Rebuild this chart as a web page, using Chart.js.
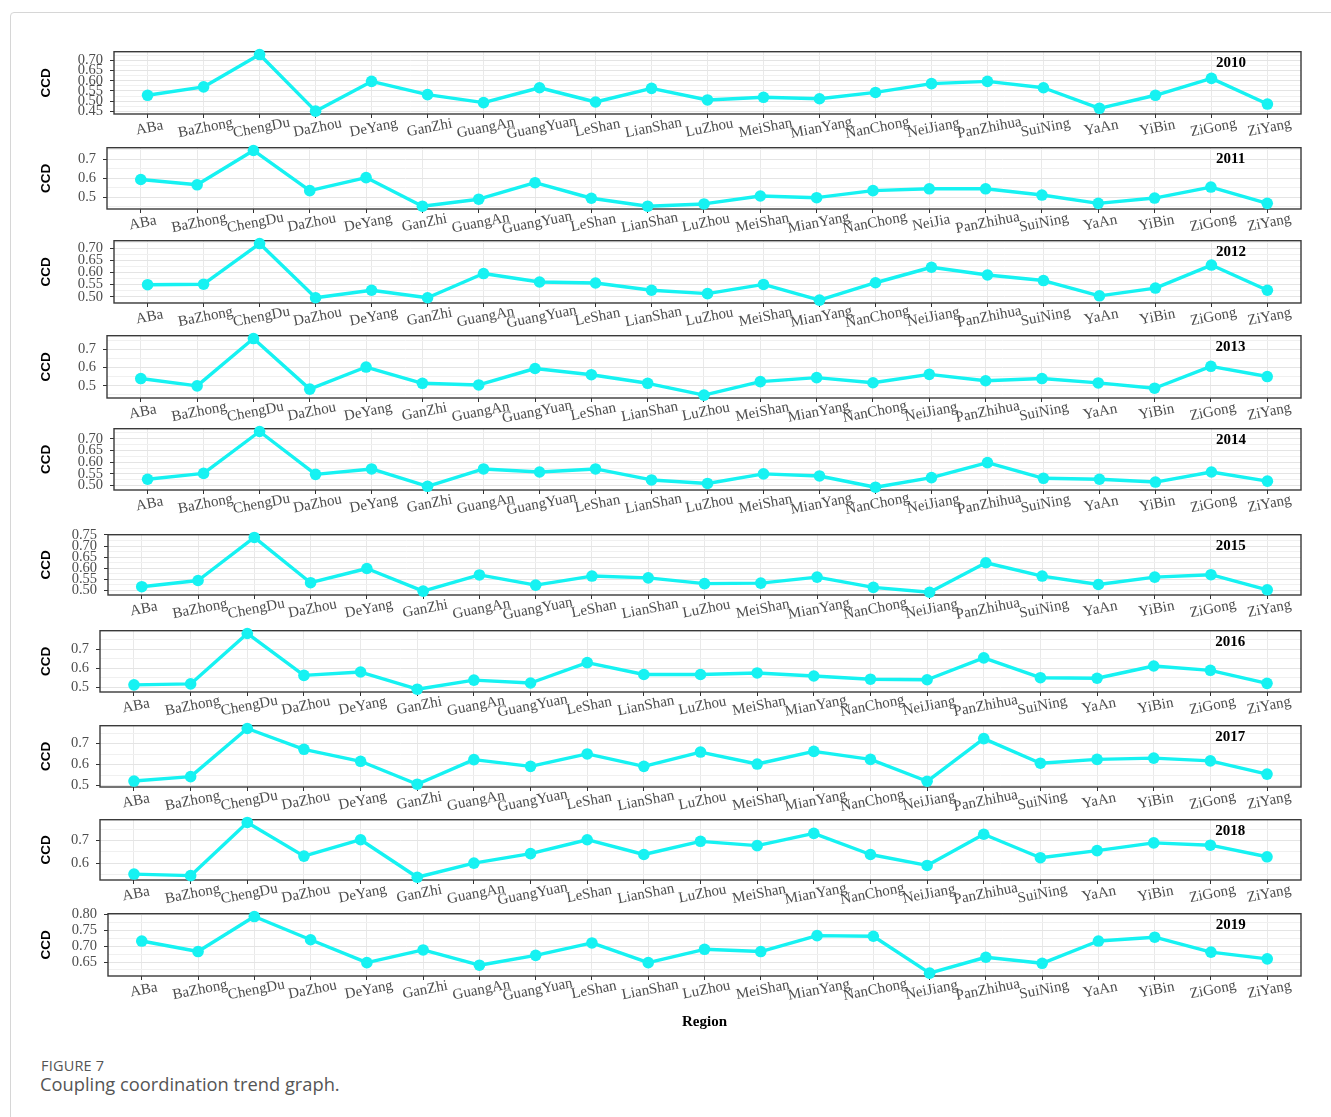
<!DOCTYPE html>
<html>
<head>
<meta charset="utf-8">
<script src="https://cdn.jsdelivr.net/npm/chart.js@4.4.1/dist/chart.umd.min.js"></script>
<style>
  html, body { margin: 0; padding: 0; background: #fff; }
  body { width: 1331px; height: 1117px; position: relative; overflow: hidden; }
  #card { position: absolute; left: 10px; top: 12px; width: 1340px; height: 1130px;
          border: 1px solid #d6d6d6; border-radius: 4px; box-sizing: border-box; }
  #panels canvas { position: absolute; left: 0; }
  .fig-num { position: absolute; left: 41px; top: 1056px; font: 14.5px "Open Sans"; color: #555; letter-spacing: 0.2px; }
  .fig-cap { position: absolute; left: 40px; top: 1071px; font: 18.3px "Open Sans"; color: #555; }
</style>
</head>
<body>
<div id="card"></div>
<div id="panels"></div>
<div class="fig-num">FIGURE 7</div>
<div class="fig-cap">Coupling coordination trend graph.</div>
<script>
// Regions of Sichuan shown on every panel's x axis
const categories = ['ABa', 'BaZhong', 'ChengDu', 'DaZhou', 'DeYang', 'GanZhi', 'GuangAn', 'GuangYuan',
  'LeShan', 'LianShan', 'LuZhou', 'MeiShan', 'MianYang', 'NanChong', 'NeiJiang', 'PanZhihua',
  'SuiNing', 'YaAn', 'YiBin', 'ZiGong', 'ZiYang'];
// the 2011 panel's axis spells NeiJiang as "NeiJia"
const categories2011 = categories.map(c => (c === 'NeiJiang' ? 'NeiJia' : c));

const years = ['2010', '2011', '2012', '2013', '2014', '2015', '2016', '2017', '2018', '2019'];

// Coupling coordination degree (CCD) per region, one array per year
const ccd2010 = [0.529, 0.570, 0.729, 0.451, 0.597, 0.532, 0.493, 0.566, 0.496, 0.563, 0.506, 0.519, 0.512, 0.543, 0.586, 0.597, 0.566, 0.465, 0.529, 0.612, 0.486];
const ccd2011 = [0.594, 0.566, 0.747, 0.535, 0.604, 0.453, 0.490, 0.577, 0.495, 0.453, 0.465, 0.507, 0.498, 0.535, 0.545, 0.545, 0.512, 0.468, 0.496, 0.554, 0.468];
const ccd2012 = [0.550, 0.552, 0.720, 0.496, 0.527, 0.496, 0.596, 0.561, 0.557, 0.527, 0.513, 0.551, 0.486, 0.558, 0.622, 0.590, 0.567, 0.504, 0.536, 0.631, 0.527];
const ccd2013 = [0.540, 0.500, 0.759, 0.482, 0.603, 0.514, 0.505, 0.595, 0.561, 0.514, 0.449, 0.523, 0.545, 0.517, 0.563, 0.528, 0.540, 0.516, 0.487, 0.607, 0.551];
const ccd2014 = [0.527, 0.552, 0.731, 0.548, 0.571, 0.497, 0.571, 0.558, 0.571, 0.524, 0.509, 0.550, 0.541, 0.493, 0.534, 0.598, 0.531, 0.527, 0.515, 0.558, 0.519];
const ccd2015 = [0.517, 0.545, 0.739, 0.535, 0.599, 0.497, 0.570, 0.524, 0.565, 0.557, 0.531, 0.533, 0.560, 0.514, 0.492, 0.625, 0.565, 0.527, 0.560, 0.571, 0.503];
const ccd2016 = [0.512, 0.517, 0.784, 0.562, 0.580, 0.489, 0.537, 0.522, 0.630, 0.567, 0.567, 0.575, 0.559, 0.542, 0.539, 0.655, 0.550, 0.547, 0.612, 0.589, 0.520];
const ccd2017 = [0.522, 0.543, 0.772, 0.673, 0.616, 0.507, 0.624, 0.592, 0.651, 0.592, 0.660, 0.603, 0.663, 0.625, 0.521, 0.724, 0.607, 0.625, 0.631, 0.618, 0.555];
const ccd2018 = [0.552, 0.545, 0.779, 0.631, 0.703, 0.538, 0.600, 0.642, 0.703, 0.638, 0.696, 0.677, 0.731, 0.638, 0.590, 0.727, 0.624, 0.655, 0.689, 0.679, 0.628];
const ccd2019 = [0.716, 0.683, 0.793, 0.720, 0.648, 0.688, 0.640, 0.671, 0.710, 0.648, 0.690, 0.683, 0.733, 0.731, 0.615, 0.665, 0.646, 0.716, 0.728, 0.681, 0.660];

// Major tick step of each panel's CCD axis (minor grid lines fall halfway)
const yTickSteps = [0.05, 0.1, 0.05, 0.1, 0.05, 0.05, 0.1, 0.1, 0.1, 0.05];

const series = [ccd2010, ccd2011, ccd2012, ccd2013, ccd2014, ccd2015, ccd2016, ccd2017, ccd2018, ccd2019];
const axisLabels = [categories, categories2011, categories, categories, categories, categories, categories, categories, categories, categories];

// Page placement of each panel's plotting box
const panelFrames = [
  { top: 48,  bottom: 114, left: 114, right: 1301 },
  { top: 144, bottom: 209, left: 107, right: 1301 },
  { top: 237, bottom: 303, left: 114, right: 1301 },
  { top: 332, bottom: 398, left: 107, right: 1301 },
  { top: 425, bottom: 490, left: 114, right: 1301 },
  { top: 531, bottom: 595, left: 108, right: 1301 },
  { top: 627, bottom: 692, left: 100, right: 1301 },
  { top: 722, bottom: 787, left: 100, right: 1301 },
  { top: 816, bottom: 880, left: 100, right: 1301 },
  { top: 910, bottom: 976, left: 108, right: 1301 }
];

const CYAN = '#16F2F2';
const PAGE_W = 1331;

// Panel frame, slanted region names and the year tag
const panelDecor = {
  id: 'panelDecor',
  beforeDatasetsDraw(chart) {
    const { ctx, chartArea: a } = chart;
    ctx.save();
    ctx.strokeStyle = '#3a3a3a';
    ctx.lineWidth = 1.4;
    ctx.strokeRect(a.left, a.top, a.right - a.left, a.bottom - a.top);
    ctx.restore();
  },
  afterDraw(chart, args, opts) {
    const { ctx, chartArea: a, scales: { x } } = chart;
    ctx.save();
    ctx.fillStyle = '#4d4d4d';
    ctx.font = '15px "Liberation Serif"';
    ctx.textAlign = 'center';
    ctx.textBaseline = 'middle';
    opts.labels.forEach((name, i) => {
      const px = x.getPixelForValue(i);
      ctx.save();
      ctx.translate(px + 2, a.bottom + 14);
      ctx.rotate(-11 * Math.PI / 180);
      ctx.fillText(name, 0, 0);
      ctx.restore();
    });
    ctx.fillStyle = '#000';
    ctx.font = 'bold 15px "Liberation Serif"';
    ctx.fillText(opts.year, x.getPixelForValue(19.35), a.top + 11);
    ctx.restore();
  }
};

const holder = document.getElementById('panels');

series.forEach((vals, p) => {
  const frame = panelFrames[p];
  const last = p === series.length - 1;
  const padTop = 12;
  const axisH = last ? 60 : 40;
  const h = frame.bottom - frame.top + padTop + axisH;

  const canvas = document.createElement('canvas');
  canvas.width = PAGE_W;
  canvas.height = h;
  canvas.style.width = PAGE_W + 'px';
  canvas.style.height = h + 'px';
  canvas.style.top = (frame.top - padTop) + 'px';
  holder.appendChild(canvas);

  // value range padded by 5% on either side
  const lo = Math.min(...vals), hi = Math.max(...vals), span = hi - lo;
  const yMin = lo - 0.05 * span, yMax = hi + 0.05 * span;
  const step = yTickSteps[p], half = step / 2;
  const decimals = step < 0.1 ? 2 : 1;
  const isMajor = v => Math.abs(v / step - Math.round(v / step)) < 1e-6;

  new Chart(canvas, {
    type: 'line',
    data: {
      datasets: [{
        data: vals.map((v, i) => ({ x: i, y: v })),
        borderColor: CYAN,
        backgroundColor: CYAN,
        borderWidth: 3.4,
        borderJoinStyle: 'round',
        pointRadius: 5.8,
        pointBorderWidth: 0,
        pointBackgroundColor: CYAN,
        tension: 0,
        clip: false
      }]
    },
    options: {
      responsive: false,
      animation: false,
      devicePixelRatio: 1,
      layout: { padding: { top: padTop, right: PAGE_W - frame.right, left: 0, bottom: 0 } },
      plugins: {
        legend: { display: false },
        tooltip: { enabled: false },
        panelDecor: { year: years[p], labels: axisLabels[p] }
      },
      scales: {
        x: {
          type: 'linear',
          min: -0.6,
          max: categories.length - 0.4,
          afterBuildTicks: s => { s.ticks = categories.map((c, i) => ({ value: i })); },
          afterFit: s => { s.height = axisH; },
          ticks: { display: false },
          border: { display: false },
          grid: { color: '#e9e9e9', lineWidth: 1, drawTicks: true, tickLength: 4, tickColor: '#333' },
          title: {
            display: last,
            text: 'Region',
            color: '#000',
            font: { family: 'Liberation Serif', weight: 'bold', size: 15 },
            padding: { top: 0, bottom: 5 }
          }
        },
        y: {
          type: 'linear',
          min: yMin,
          max: yMax,
          afterBuildTicks: s => {
            const ticks = [];
            const k0 = Math.ceil(yMin / half - 1e-9), k1 = Math.floor(yMax / half + 1e-9);
            for (let k = k0; k <= k1; k++) ticks.push({ value: +(k * half).toFixed(4) });
            s.ticks = ticks;
          },
          afterFit: s => { s.width = frame.left; },
          ticks: {
            autoSkip: false,
            padding: 7,
            color: '#4d4d4d',
            font: { family: 'Liberation Serif', size: 14.5 },
            callback: v => (isMajor(v) ? v.toFixed(decimals) : '')
          },
          border: { display: false },
          grid: {
            color: c => (c.tick && isMajor(c.tick.value) ? '#e4e4e4' : '#f0f0f0'),
            lineWidth: 1,
            drawTicks: true,
            tickLength: 4,
            tickColor: c => (c.tick && isMajor(c.tick.value) ? '#333' : 'rgba(0,0,0,0)')
          },
          title: {
            display: true,
            text: 'CCD',
            color: '#000',
            font: { family: 'Liberation Sans', weight: 'bold', size: 13.5 },
            padding: { top: 38, bottom: 0 }
          }
        }
      }
    },
    plugins: [panelDecor]
  });
});
</script>
</body>
</html>
